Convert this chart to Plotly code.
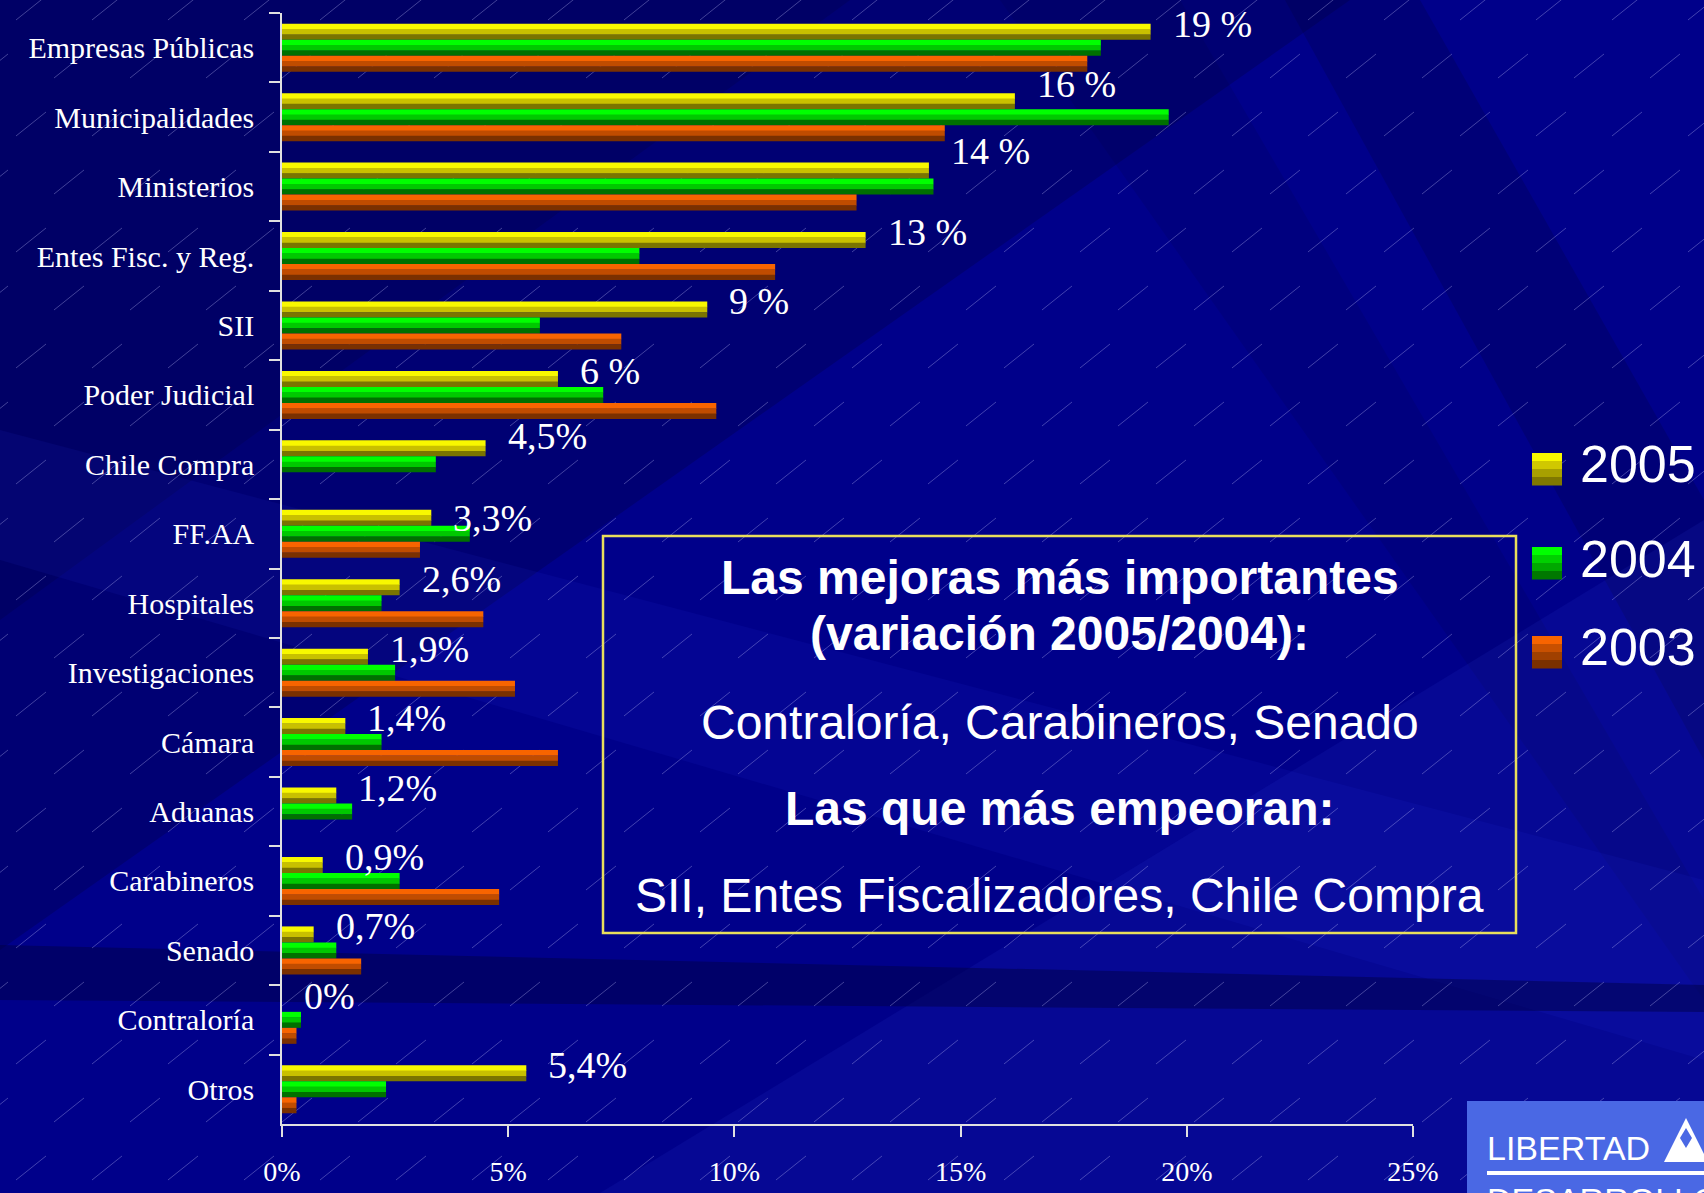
import plotly.graph_objects as go

# ---------------- data ----------------
categories = ["Empresas Públicas", "Municipalidades", "Ministerios", "Entes Fisc. y Reg.",
              "SII", "Poder Judicial", "Chile Compra", "FF.AA", "Hospitales",
              "Investigaciones", "Cámara", "Aduanas", "Carabineros", "Senado",
              "Contraloría", "Otros"]
v2005 = [19.2, 16.2, 14.3, 12.9, 9.4, 6.1, 4.5, 3.3, 2.6, 1.9, 1.4, 1.2, 0.9, 0.7, 0.0, 5.4]
v2004 = [18.1, 19.6, 14.4, 7.9, 5.7, 7.1, 3.4, 4.15, 2.2, 2.5, 2.2, 1.55, 2.6, 1.2, 0.42, 2.3]
v2003 = [17.8, 14.65, 12.7, 10.9, 7.5, 9.6, None, 3.05, 4.45, 5.15, 6.1, None, 4.8, 1.75, 0.32, 0.32]
labels_2005 = ["19 %", "16 %", "14 %", "13 %", "9 %", "6 %", "4,5%", "3,3%", "2,6%", "1,9%",
               "1,4%", "1,2%", "0,9%", "0,7%", "0%", "5,4%"]
years = ["2005", "2004", "2003"]
x_tick_vals = [0, 5, 10, 15, 20, 25]
x_tick_text = ["0%", "5%", "10%", "15%", "20%", "25%"]
box_lines = ["<b>Las mejoras más importantes</b>", "<b>(variación 2005/2004):</b>",
             "Contraloría, Carabineros, Senado", "<b>Las que más empeoran:</b>",
             "SII, Entes Fiscalizadores, Chile Compra"]

# ---------------- styles ----------------
W, H = 1704, 1193
ML, MR, MT, MB = 282, 291, 13, 69
PW, PH = W - ML - MR, H - MT - MB
SERIF = "Liberation Serif, Times New Roman, serif"
SANS = "Liberation Sans, Arial, sans-serif"
stripe_colors = {
    "2005": ["#F8F800", "#C8C000", "#7A7400"],
    "2004": ["#00FF00", "#00C800", "#007000"],
    "2003": ["#F86400", "#C04C00", "#7A3000"],
}
legend_colors = {
    "2005": ["#F8F800", "#D0C800", "#A8A000", "#807800"],
    "2004": ["#00FF00", "#00D000", "#00A800", "#007800"],
    "2003": ["#F86400", "#C85000", "#A04000", "#7A3000"],
}
# extra vertical nudges (px) for a few value labels, as placed in the original slide
label_nudge = {"Municipalidades": 9, "Ministerios": 12, "Chile Compra": 4, "FF.AA": -8}


def px(x):
    return (x - ML) / PW


def py(y):
    return 1 - (y - MT) / PH


def poly(points):
    return "M " + " L ".join(f"{px(x):.5f},{py(y):.5f}" for x, y in points) + " Z"


fig = go.Figure()

series = {"2005": v2005, "2004": v2004, "2003": v2003}
bar_w = 0.2303
stripe = bar_w / 3
start = -1.5 * bar_w
for k, yr in enumerate(years):
    for j, col in enumerate(stripe_colors[yr]):
        fig.add_trace(go.Bar(
            y=categories, x=series[yr], orientation="h",
            offset=start + k * bar_w + j * stripe,
            width=stripe * (1.08 if j < 2 else 1.0),
            marker=dict(color=col, line=dict(width=0)),
            name=yr, showlegend=False, hoverinfo="x+y",
        ))

shapes = []
# background decoration
bg = [
    ([(0, 0), (1350, 0), (0, 950)], "#000030", 0.25),
    ([(0, 0), (850, 0), (0, 620)], "#000030", 0.20),
    ([(1285, 0), (1420, 0), (1704, 500), (1704, 760)], "#000040", 0.25),
    ([(1000, 0), (1180, 0), (1704, 900), (1704, 1000)], "#000040", 0.14),
    ([(0, 430), (0, 560), (1704, 1060), (1704, 880)], "#3040FF", 0.08),
    ([(600, 1193), (1704, 1193), (1704, 520)], "#3040E0", 0.12),
    ([(0, 945), (1704, 985), (1704, 1012), (0, 1000)], "#000040", 0.45),
]
for pts, col, op in bg:
    shapes.append(dict(type="path", xref="paper", yref="paper", path=poly(pts),
                       fillcolor=col, opacity=op, line=dict(width=0), layer="below"))
# faint diagonal hatch
segs = []
row = 0
for y0 in range(20, 1260, 58):
    shift = (row % 2) * 38
    for x0 in range(-60 + shift, 1760, 76):
        segs.append(f"M {px(x0):.5f},{py(y0):.5f} L {px(x0 + 30):.5f},{py(y0 - 24):.5f}")
    row += 1
shapes.append(dict(type="path", xref="paper", yref="paper", path=" ".join(segs),
                   line=dict(color="rgba(200,200,255,0.33)", width=1), layer="below"))

# text box
shapes.append(dict(type="rect", xref="paper", yref="paper",
                   x0=px(603), x1=px(1516), y0=py(536), y1=py(933),
                   line=dict(color="#E8DE5C", width=2.5), fillcolor="rgba(0,0,0,0)"))

# legend squares
leg_tops = [453, 547, 636]
for yr, top in zip(years, leg_tops):
    cols = legend_colors[yr]
    h = 32 / len(cols)
    for i, c in enumerate(cols):
        shapes.append(dict(type="rect", xref="paper", yref="paper",
                           x0=px(1532), x1=px(1562), y0=py(top + i * h), y1=py(top + (i + 1) * h + 0.5),
                           fillcolor=c, line=dict(width=0)))

# logo
shapes.append(dict(type="rect", xref="paper", yref="paper",
                   x0=px(1467), x1=px(1720), y0=py(1101), y1=py(1210),
                   fillcolor="#4A68E4", line=dict(width=0)))
shapes.append(dict(type="rect", xref="paper", yref="paper",
                   x0=px(1487), x1=px(1720), y0=py(1171), y1=py(1175),
                   fillcolor="white", line=dict(width=0)))
shapes.append(dict(type="path", xref="paper", yref="paper",
                   path=poly([(1686, 1118), (1664, 1162), (1708, 1162)]),
                   fillcolor="white", line=dict(width=0)))
shapes.append(dict(type="path", xref="paper", yref="paper",
                   path=poly([(1686, 1128), (1680, 1138), (1686, 1148), (1692, 1138)]),
                   fillcolor="#4A68E4", line=dict(width=0)))

annotations = []
for cat, val, lab in zip(categories, v2005, labels_2005):
    annotations.append(dict(x=val, y=cat, xref="x", yref="y", text=lab, showarrow=False,
                            xanchor="left", yanchor="middle", xshift=20,
                            yshift=24 + label_nudge.get(cat, 0),
                            font=dict(family=SERIF, size=38, color="white")))

box_y = [577, 633, 722, 808, 895]
for t, yy in zip(box_lines, box_y):
    annotations.append(dict(x=px(1059.5), y=py(yy), xref="paper", yref="paper", text=t,
                            showarrow=False, xanchor="center", yanchor="middle",
                            font=dict(family=SANS, size=48, color="white")))

leg_y = [464, 559, 647]
for yr, yy in zip(years, leg_y):
    annotations.append(dict(x=px(1578), y=py(yy), xref="paper", yref="paper", text=yr,
                            showarrow=False, xanchor="left", yanchor="middle",
                            font=dict(family=SANS, size=52, color="white")))

annotations.append(dict(x=px(1485), y=py(1148), xref="paper", yref="paper", text="LIBERTAD",
                        showarrow=False, xanchor="left", yanchor="middle",
                        font=dict(family=SANS, size=34, color="white")))
annotations.append(dict(x=px(1485), y=py(1200), xref="paper", yref="paper", text="DESARROLLO",
                        showarrow=False, xanchor="left", yanchor="middle",
                        font=dict(family=SANS, size=34, color="white")))

fig.update_layout(
    width=W, height=H,
    margin=dict(l=ML, r=MR, t=MT, b=MB, pad=0, autoexpand=False),
    paper_bgcolor="#00008A",
    plot_bgcolor="rgba(0,0,0,0)",
    barmode="overlay",
    showlegend=False,
    shapes=shapes,
    annotations=annotations,
    font=dict(family=SERIF, color="white"),
    xaxis=dict(range=[0, 25], tickvals=x_tick_vals, ticktext=x_tick_text, automargin=False,
               showgrid=False, zeroline=False, showline=True, linecolor="#E0E0E0", linewidth=1.5,
               ticks="outside", ticklen=11, tickcolor="#E0E0E0", tickwidth=1.5,
               tickfont=dict(family=SERIF, size=28, color="white"), ticklabelstandoff=11),
    yaxis=dict(type="category", categoryorder="array", categoryarray=categories, automargin=False,
               range=[len(categories) - 0.5, -0.5],
               showgrid=False, zeroline=False, showline=True, linecolor="#E0E0E0", linewidth=1.5,
               ticks="outside", tickson="boundaries", ticklen=11, tickcolor="#E0E0E0", tickwidth=1.5,
               tickfont=dict(family=SERIF, size=30, color="white"), ticklabelstandoff=20),
)

fig.write_html("out.html", config={"displayModeBar": False},
               post_script="document.body.style.margin='0';document.body.style.overflow='hidden';")
